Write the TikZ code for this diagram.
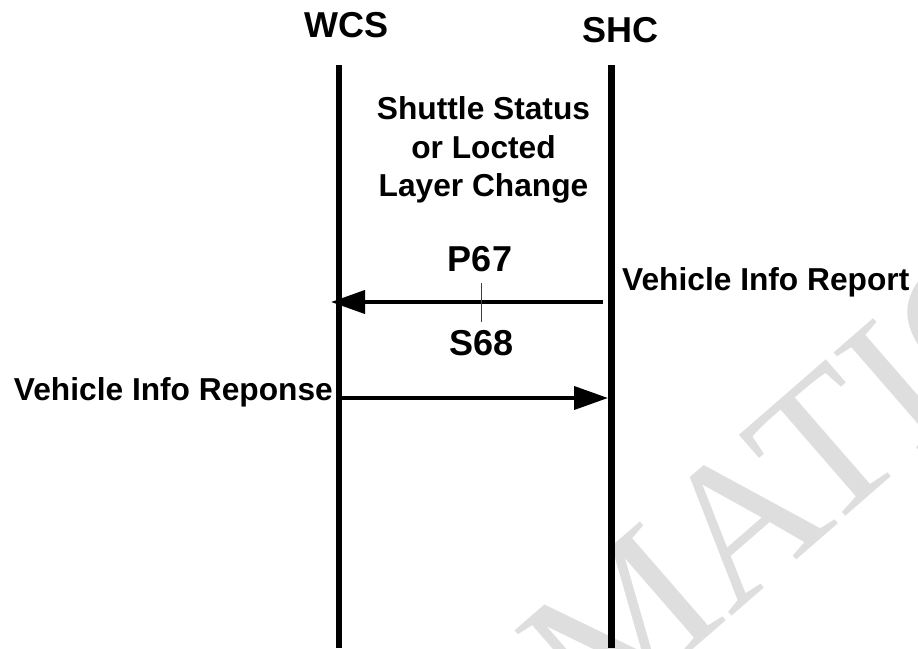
\documentclass[tikz,border=0pt]{standalone}
\usepackage{fontspec}
\setmainfont{Liberation Sans}
\newfontfamily\wmfont{Liberation Serif}
\usepackage{tikz}
\usetikzlibrary{positioning}
\usetikzlibrary{arrows.meta}
\begin{document}
\begin{tikzpicture}[x=1pt,y=-1pt,>={Triangle[length=34pt,width=23pt]},
  inner sep=0pt,
  head node/.style={font=\fontsize{36pt}{40pt}\selectfont\bfseries},
  text node/.style={font=\fontsize{31.7pt}{38.5pt}\selectfont\bfseries},
  lifeline/.style={line width=6.5pt},
  msg/.style={->,line width=4pt},
  wmark/.style={rotate=41,text=black!13,font=\wmfont\fontsize{200pt}{210pt}\selectfont}]

  \useasboundingbox (0,0) rectangle (918,648);

  % watermark behind
  \node[wmark, anchor=base west] (wm2) at (596,734) {MATION};
  \node[wmark, anchor=base east] (wm1) at (596,734) {INFOR};

  % heads
  \node[head node, anchor=base] (wcs) at (346.5,37) {WCS};
  \node[head node, anchor=base] (shc) at (620.5,42) {SHC};

  \coordinate (wcs top) at (339,65);
  \coordinate (wcs bot) at (339,648);
  \coordinate (shc top) at (611.5,65);
  \coordinate (shc bot) at (611.5,648);

  \draw[lifeline] (wcs top) -- (wcs bot);
  \draw[lifeline] (shc top) -- (shc bot);

  \node[text node, align=center] (cond) at (483.5,150.3)
    {Shuttle Status\\or Locted\\Layer Change};

  % message ends
  \coordinate (shc a) at (603,302);
  \coordinate (wcs a) at (331,302);
  \coordinate (wcs b) at (339,398);
  \coordinate (shc b) at (608,398);
  \coordinate (mid) at (481.7,302);

  \draw[msg] (shc a) -- (wcs a);
  \draw[line width=1pt, black!75] ([yshift=19pt]mid) -- ([yshift=-20pt]mid);
  \draw[msg] (wcs b) -- (shc b);

  \node[head node, anchor=base] (p67) at (480,271.7) {P67};
  \node[head node, anchor=base] (s68) at (481.7,355) {S68};

  \node[text node, anchor=base west] (report) at (622,290) {Vehicle Info Report};
  \node[text node, anchor=base east] (reply) at (333,400) {Vehicle Info Reponse};

\end{tikzpicture}
\end{document}
